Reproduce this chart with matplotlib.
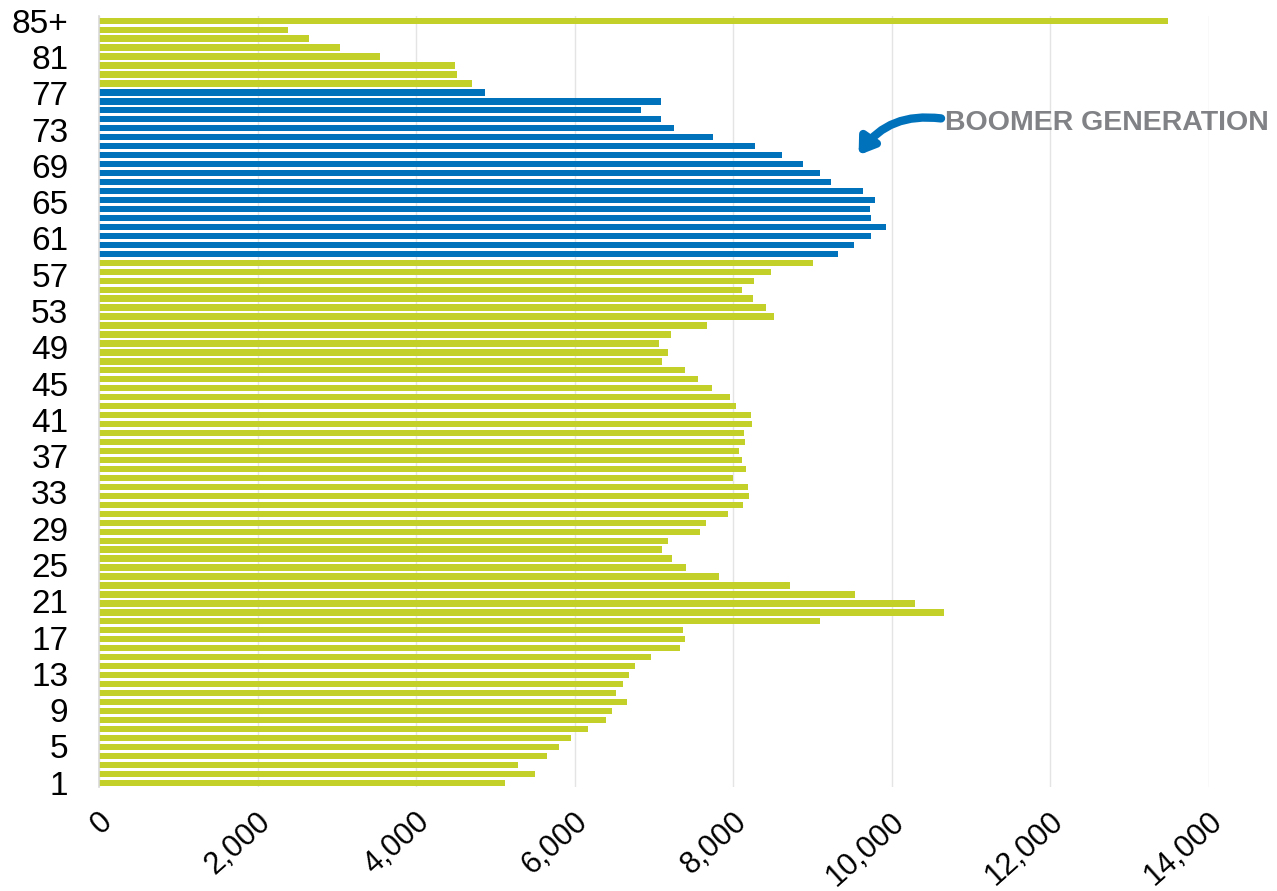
# Population by single year of age, boomer generation highlighted.
import numpy as np
import matplotlib
matplotlib.use("Agg")
import matplotlib.pyplot as plt
import matplotlib.transforms as mtransforms
from matplotlib.ticker import FuncFormatter

plt.rcParams["font.family"] = ["Liberation Sans", "DejaVu Sans"]

# categories, bottom (age 0) to top (85+)
ages = [str(a) for a in range(85)] + ["85+"]

# population per age
population = [
    5120, 5500, 5285, 5655, 5805, 5955, 6165, 6395, 6465, 6660,   # 0-9
    6520, 6605, 6680, 6755, 6965, 7330, 7385, 7370, 9090, 10655,  # 10-19
    10290, 9540, 8720, 7820, 7405, 7230, 7095, 7175, 7575, 7650,  # 20-29
    7935, 8120, 8200, 8180, 8000, 8165, 8110, 8070, 8145, 8130,   # 30-39
    8240, 8225, 8030, 7960, 7725, 7555, 7385, 7095, 7175, 7060,   # 40-49
    7210, 7670, 8510, 8410, 8245, 8110, 8265, 8470, 9005, 9320,   # 50-59
    9525, 9740, 9930, 9740, 9725, 9785, 9630, 9230, 9095, 8880,   # 60-69
    8610, 8270, 7750, 7255, 7085, 6840, 7085, 4870, 4700, 4510,   # 70-79
    4490, 3550, 3035, 2655, 2390, 13480,                          # 80-85+
]

# axis labels shown down the side (spread evenly, top bar to bottom bar)
age_labels = ["85+", "81", "77", "73", "69", "65", "61", "57", "53", "49",
              "45", "41", "37", "33", "29", "25", "21", "17", "13", "9",
              "5", "1"]

boomer_first = "59"
boomer_last = "77"

GREEN = "#C4D02A"
BLUE = "#0072BC"
GREY_TEXT = "#808285"

lo, hi = ages.index(boomer_first), ages.index(boomer_last)
colors = [BLUE if lo <= i <= hi else GREEN for i in range(len(ages))]

fig = plt.figure(figsize=(12.77, 8.91), dpi=100)
ax = fig.add_axes([0.0775, 0.1165, 0.8693, 0.8653])

ax.barh(range(len(ages)), population, height=0.7, color=colors, zorder=2)

ax.set_xlim(0, 14000)
ax.set_ylim(-0.5, len(ages) - 0.5)
ax.set_xticks(range(0, 14001, 2000))
ax.xaxis.set_major_formatter(FuncFormatter(lambda v, p: f"{int(v):,}"))

ax.set_yticks(np.linspace(len(ages) - 1, 0, len(age_labels)))
ax.set_yticklabels(age_labels)

ax.grid(axis="x", color="#e4e4e4", lw=1, zorder=0)
ax.set_axisbelow(True)
for side in ("top", "right", "bottom"):
    ax.spines[side].set_visible(False)
ax.spines["left"].set_color("#d9d9d9")
ax.spines["left"].set_linewidth(1.2)

ax.tick_params(axis="both", length=0)
ax.tick_params(axis="y", labelsize=24, pad=22)
ax.tick_params(axis="x", labelsize=22, pad=22)

shift = mtransforms.ScaledTranslation(9 / 100, 0, fig.dpi_scale_trans)
for lbl in ax.get_xticklabels():
    lbl.set_rotation(42)
    lbl.set_ha("right")
    lbl.set_va("center")
    lbl.set_rotation_mode("anchor")
    lbl.set_transform(lbl.get_transform() + shift)

# annotation
ax.annotate(
    "", xy=(9580, ages.index("70") + 0.0), xytext=(10620, ages.index("74") + 0.1),
    arrowprops=dict(arrowstyle="-|>,head_length=0.9,head_width=0.6",
                    connectionstyle="arc3,rad=0.3", lw=6, color=BLUE,
                    shrinkA=0, shrinkB=0),
    annotation_clip=False,
)
ax.text(10670, ages.index("74") - 0.45, "BOOMER GENERATION", fontsize=20.5,
        fontweight="bold", color=GREY_TEXT, va="center", ha="left",
        clip_on=False)

fig.savefig("out.png", dpi=100)
